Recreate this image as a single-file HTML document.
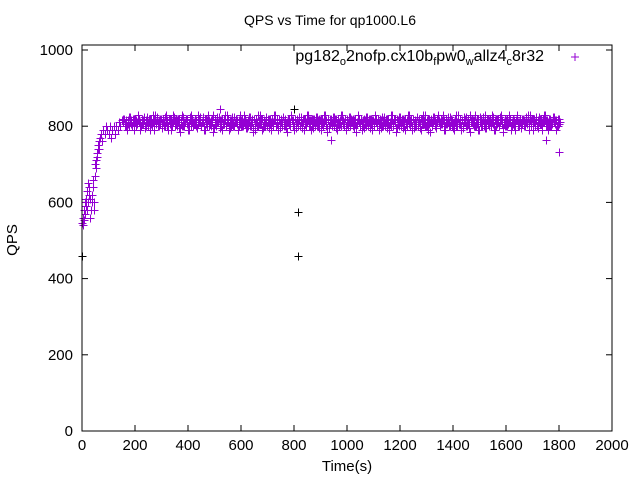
<!DOCTYPE html>
<html><head><meta charset="utf-8"><style>
body{margin:0;background:#fff}
svg text{font-family:"Liberation Sans",sans-serif;fill:#000}
#marks line{shape-rendering:crispEdges}
</style></head><body>
<svg width="640" height="480" xmlns="http://www.w3.org/2000/svg">
<rect width="640" height="480" fill="#fff"/>
<text x="330" y="25" text-anchor="middle" font-size="14">QPS vs Time for qp1000.L6</text>
<g id="ticks"></g>
<g id="marks"></g>
<rect x="82" y="45" width="530" height="386" fill="none" stroke="#000" stroke-width="1"/>
<text x="544" y="61" text-anchor="end" font-size="16">pg182<tspan font-size="11" dy="4">o</tspan><tspan dy="-4">2nofp.cx10b</tspan><tspan font-size="11" dy="4">f</tspan><tspan dy="-4">pw0</tspan><tspan font-size="11" dy="4">w</tspan><tspan dy="-4">allz4</tspan><tspan font-size="11" dy="4">c</tspan><tspan dy="-4">8r32</tspan></text>
<g stroke="#9400d3" stroke-width="1" shape-rendering="crispEdges"><line x1="571" y1="57" x2="579" y2="57"/><line x1="575" y1="53" x2="575" y2="61"/></g>
<text x="347" y="471" text-anchor="middle" font-size="15">Time(s)</text>
<text transform="translate(17,240) rotate(-90)" text-anchor="middle" font-size="15">QPS</text>
</svg>
<script>
const xTicks=[0,200,400,600,800,1000,1200,1400,1600,1800,2000];
const yTicks=[0,200,400,600,800,1000];
const rampTimes=[0,2,4,6,8,10,12,14,16,18,20,22,24,26,28,30,32,34,36,38,40,42,44,46,48,50,52,54,56,58,60,62,64,66,68,70,75,80,85,90,95,100,105,110,115,120,125,130,135,140,145,150];
const rampValues=[545,540,560,555,580,570,600,590,610,580,630,600,650,620,640,560,610,580,600,620,660,640,600,580,670,700,710,690,730,720,740,750,760,740,770,780,760,790,780,800,790,780,800,770,790,800,780,800,790,810,800,815];
const bandStart=155;
const bandStep=5;
const bandValues=[
810,820,800,790,815,825,805,800,820,810,
800,830,810,790,820,805,815,800,825,810,
790,820,800,810,830,805,800,815,820,795,
810,800,825,815,790,820,810,800,830,805,
820,800,810,785,815,825,800,810,820,790,
805,830,810,800,820,815,795,810,825,800,
810,790,820,805,830,800,815,810,785,820,
800,825,810,795,815,820,805,830,800,810,
790,815,820,800,825,810,805,790,830,815,
800,810,820,795,815,825,800,810,785,820,
810,800,830,805,820,790,815,800,825,810,
795,820,810,800,830,815,805,790,820,810,
800,825,815,795,810,820,800,830,805,790,
820,810,800,815,825,795,810,820,800,830,
805,815,790,820,810,800,825,815,795,810,
820,800,830,805,785,815,820,810,800,825,
810,795,820,800,815,830,805,810,790,820,
800,825,810,815,795,820,800,830,810,805,
790,815,820,800,825,810,795,820,815,800,
830,810,805,790,820,815,800,825,810,795,
820,800,815,830,805,810,785,820,800,825,
810,795,815,820,800,830,805,810,790,820,
815,800,825,810,795,820,830,805,800,815,
790,820,810,800,825,815,795,810,830,800,
820,805,815,790,820,810,800,825,815,795,
810,830,800,820,805,790,815,825,810,800,
820,795,830,810,805,815,800,820,790,825,
810,800,815,830,795,820,805,810,800,825,
790,815,820,810,800,830,805,795,820,815,
800,825,810,790,820,815,805,830,800,810,
795,820,815,800,825,810,790,830,805,820,
810,800,815,795,825,820,800,810,830,805,
815,790,820,800,810,825,805,815,800,820
];
const outlierTimes=[520,940,1750,1800];
const outlierValues=[845,765,765,732];
const blackTimes=[0,800,815,815];
const blackValues=[460,845,575,460];
const X0=82,X1=612,Y0=431,Y1=50;
function sx(t){return X0+(t-0)/(2000-0)*(X1-X0);}
function sy(v){return Y0-(v-0)/(1000-0)*(Y0-Y1);}
const NS="http://www.w3.org/2000/svg";
const tg=document.getElementById('ticks');
function line(g,x1,y1,x2,y2,c){const l=document.createElementNS(NS,'line');l.setAttribute('x1',x1);l.setAttribute('y1',y1);l.setAttribute('x2',x2);l.setAttribute('y2',y2);l.setAttribute('stroke',c);l.setAttribute('stroke-width','1');g.appendChild(l);return l;}
function txt(x,y,s,anchor){const t=document.createElementNS(NS,'text');t.setAttribute('x',x);t.setAttribute('y',y);t.setAttribute('text-anchor',anchor);t.setAttribute('font-size','15');t.textContent=s;tg.appendChild(t);return t;}
xTicks.forEach(v=>{const x=sx(v);
 const a=line(tg,x,Y0,x,Y0-6,'#000');
 
 
 line(tg,x,45,x,51,'#000');
 const t=txt(x,450,String(v),'middle');
 
 
});
yTicks.forEach(v=>{const y=sy(v);
 const a=line(tg,X0,y,X0+6,y,'#000');
 
 
 line(tg,X1,y,X1-6,y,'#000');
 const t=txt(73,y+5,String(v),'end');
 
 
});
const mg=document.getElementById('marks');
function cross(t,v,c){const x=Math.round(sx(t))+0.5,y=Math.round(sy(v))+0.5;const g=document.createElementNS(NS,'g');
 
 
 line(g,x-4,y,x+4,y,c);line(g,x,y-4,x,y+4,c);mg.appendChild(g);}
const P='#9400d3';
rampTimes.forEach((t,i)=>cross(t,rampValues[i],P));
bandValues.forEach((v,i)=>cross(bandStart+i*bandStep,v,P));
const bandValues2=bandValues.slice().reverse();
bandValues2.forEach((v,i)=>cross(bandStart+2.5+i*bandStep,v,P));
bandValues.forEach((v,i)=>cross(bandStart+1.2+i*bandStep,v>=815?v-15:v+10,P));
outlierTimes.forEach((t,i)=>cross(t,outlierValues[i],P));
blackTimes.forEach((t,i)=>cross(t,blackValues[i],'#000'));
</script>
</body></html>
